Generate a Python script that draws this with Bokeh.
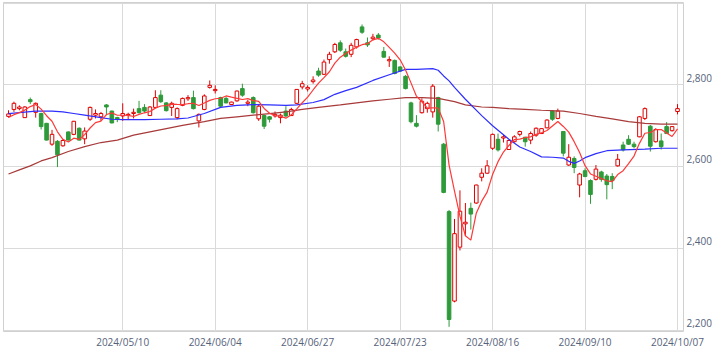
import numpy as np
from bokeh.plotting import figure
from bokeh.models import ColumnDataSource, FixedTicker, Range1d, NumeralTickFormatter
from bokeh.embed import file_html
from bokeh.resources import INLINE

# ---- daily candles (trading-day index 0..123) ----
opens = [2723, 2740, 2742, 2720, 2764, 2733, 2730, 2706, 2655, 2662,
         2651, 2685, 2679, 2694, 2668, 2716, 2726, 2722, 2751, 2736,
         2720, 2724, 2726, 2730, 2742, 2745, 2725, 2745, 2775, 2756,
         2745, 2720, 2750, 2766, 2769, 2712, 2740, 2794, 2786, 2769,
         2767, 2752, 2761, 2791, 2755, 2769, 2717, 2725, 2722, 2724,
         2720, 2736, 2725, 2755, 2795, 2790, 2808, 2834, 2826, 2862,
         2881, 2903, 2881, 2875, 2893, 2942, 2903, 2913, 2922, 2882,
         2859, 2860, 2844, 2821, 2756, 2706, 2732, 2742, 2734, 2769,
         2655, 2490, 2271, 2403, 2460, 2498, 2511, 2574, 2584, 2645,
         2667, 2670, 2642, 2661, 2679, 2672, 2665, 2677, 2681, 2695,
         2736, 2718, 2686, 2604, 2620, 2555, 2590, 2566, 2569, 2587,
         2577, 2576, 2602, 2653, 2667, 2655, 2673, 2718, 2699, 2661,
         2663, 2698, 2688, 2735]
highs = [2738, 2759, 2750, 2748, 2769, 2757, 2732, 2707, 2690, 2665,
         2667, 2686, 2712, 2696, 2696, 2747, 2740, 2734, 2753, 2737,
         2722, 2755, 2732, 2742, 2761, 2753, 2748, 2787, 2787, 2758,
         2759, 2745, 2769, 2775, 2786, 2730, 2777, 2811, 2799, 2771,
         2771, 2759, 2786, 2803, 2763, 2772, 2753, 2727, 2724, 2735,
         2730, 2748, 2744, 2790, 2810, 2799, 2821, 2842, 2862, 2881,
         2903, 2909, 2889, 2903, 2913, 2948, 2916, 2925, 2927, 2893,
         2870, 2862, 2846, 2824, 2759, 2726, 2767, 2759, 2802, 2771,
         2658, 2494, 2472, 2542, 2511, 2512, 2556, 2596, 2616, 2681,
         2681, 2678, 2666, 2677, 2688, 2673, 2686, 2696, 2694, 2716,
         2738, 2742, 2687, 2655, 2625, 2585, 2596, 2569, 2604, 2590,
         2582, 2584, 2631, 2661, 2677, 2661, 2724, 2745, 2702, 2694,
         2681, 2709, 2699, 2753]
lows = [2720, 2734, 2738, 2720, 2753, 2720, 2691, 2664, 2651, 2599,
        2649, 2664, 2677, 2664, 2655, 2712, 2718, 2712, 2726, 2706,
        2709, 2712, 2714, 2718, 2730, 2732, 2724, 2743, 2756, 2735,
        2724, 2716, 2748, 2761, 2740, 2696, 2738, 2791, 2779, 2746,
        2755, 2751, 2759, 2771, 2748, 2730, 2712, 2692, 2708, 2720,
        2706, 2721, 2724, 2753, 2789, 2784, 2803, 2820, 2825, 2852,
        2878, 2881, 2867, 2868, 2889, 2925, 2893, 2909, 2911, 2867,
        2844, 2826, 2832, 2789, 2706, 2696, 2730, 2732, 2720, 2686,
        2535, 2208, 2268, 2395, 2430, 2446, 2509, 2564, 2582, 2641,
        2637, 2659, 2641, 2659, 2674, 2649, 2655, 2673, 2680, 2694,
        2712, 2716, 2625, 2602, 2584, 2525, 2574, 2509, 2566, 2563,
        2520, 2545, 2600, 2637, 2653, 2645, 2672, 2714, 2637, 2659,
        2642, 2680, 2686, 2728]
closes = [2729, 2755, 2746, 2746, 2759, 2755, 2698, 2665, 2679, 2629,
          2664, 2665, 2711, 2665, 2687, 2745, 2730, 2730, 2746, 2707,
          2716, 2730, 2728, 2733, 2732, 2736, 2746, 2769, 2759, 2737,
          2755, 2742, 2767, 2769, 2742, 2728, 2773, 2799, 2789, 2748,
          2756, 2758, 2785, 2775, 2758, 2732, 2748, 2699, 2716, 2728,
          2726, 2724, 2740, 2789, 2803, 2794, 2812, 2824, 2856, 2875,
          2899, 2885, 2870, 2897, 2911, 2929, 2898, 2917, 2915, 2868,
          2862, 2828, 2834, 2791, 2710, 2699, 2760, 2755, 2797, 2704,
          2537, 2226, 2436, 2491, 2464, 2484, 2555, 2584, 2602, 2679,
          2641, 2673, 2664, 2673, 2686, 2661, 2681, 2694, 2693, 2714,
          2716, 2736, 2633, 2623, 2598, 2582, 2576, 2532, 2594, 2569,
          2556, 2566, 2618, 2641, 2655, 2649, 2722, 2742, 2650, 2691,
          2649, 2681, 2698, 2742]
# four closes before the first shown day (for the 5-day average)
prior_closes = [2720, 2721, 2715, 2716]

# ---- 25-day (blue) and 75-day (brown) averages ----
ma25_index = [0, 5, 8, 10, 12, 14, 17, 19, 21, 25, 28, 31, 33, 36, 39, 42, 45, 48,
              51, 53, 56, 58, 60, 62, 64, 67, 70, 73, 75, 78, 79, 80, 81, 82, 84,
              87, 89, 92, 94, 96, 98, 100, 102, 103, 104, 105, 106, 108, 110, 113,
              117, 120, 123]
ma25_values = [2730, 2736, 2736, 2734, 2730, 2726, 2720, 2716, 2715, 2715, 2716,
               2717, 2719, 2730, 2745, 2750, 2752, 2751, 2750, 2751, 2757, 2764,
               2777, 2786, 2794, 2811, 2825, 2838, 2838, 2840, 2836, 2822, 2810,
               2794, 2765, 2725, 2700, 2667, 2648, 2637, 2624, 2623, 2621, 2613,
               2608, 2614, 2622, 2632, 2639, 2641, 2643, 2645, 2645]
ma75_index = [0, 2, 4, 6, 8, 11, 14, 17, 20, 23, 26, 29, 32, 36, 39, 42, 45, 48,
              51, 54, 57, 61, 64, 67, 70, 73, 76, 79, 82, 84, 87, 89, 92, 95, 98,
              102, 105, 108, 111, 114, 117, 120, 123]
ma75_values = [2582, 2592, 2602, 2614, 2622, 2637, 2649, 2659, 2665, 2677, 2685,
               2693, 2701, 2710, 2718, 2722, 2726, 2730, 2734, 2740, 2745, 2751,
               2756, 2761, 2765, 2769, 2769, 2767, 2759, 2751, 2746, 2745, 2742,
               2740, 2738, 2736, 2730, 2723, 2717, 2710, 2706, 2704, 2704]

tick_index = [21, 38, 55, 72, 89, 106, 123]
tick_labels = ["2024/05/10", "2024/06/04", "2024/06/27", "2024/07/23",
               "2024/08/16", "2024/09/10", "2024/10/07"]
price_ticks = [2200, 2400, 2600, 2800, 3000]

UP = "#e00000"
DOWN = "#2e9a3a"
FONT = "Open Sans"
LABEL_COLOR = "#56627a"

x = np.arange(len(closes))
o = np.array(opens, float)
c = np.array(closes, float)
up = c >= o
src = ColumnDataSource(dict(
    x=x, high=highs, low=lows,
    top=np.maximum(o, c), bottom=np.minimum(o, c),
    line=[UP if u else DOWN for u in up],
    fill=["#ffffff" if u else DOWN for u in up],
))

ext = np.array(prior_closes + closes, float)
ma5 = np.array([ext[i:i + 5].mean() for i in range(len(closes))])

p = figure(width=722, height=351, output_backend="svg", toolbar_location=None,
           x_range=Range1d(-0.92, 124.1), y_range=Range1d(2196.6, 3001.7),
           y_axis_location="right",
           min_border_left=3, min_border_top=2, min_border_right=39, min_border_bottom=19)
p.background_fill_color = "#ffffff"
p.border_fill_color = "#ffffff"
p.outline_line_color = "#d0d0d0"
p.outline_line_width = 1

# grids
p.xgrid.ticker = FixedTicker(ticks=tick_index)
p.ygrid.ticker = FixedTicker(ticks=price_ticks)
for g in (p.xgrid, p.ygrid):
    g.grid_line_color = "#dadada"
    g.grid_line_width = 1

# x axis
xa = p.xaxis[0]
xa.ticker = FixedTicker(ticks=tick_index)
xa.major_label_overrides = {t: l for t, l in zip(tick_index, tick_labels)}
# y axis: labels sit just above their grid line
yoff = 18
ylab_ticks = [t + yoff for t in price_ticks[:-1]]
ya = p.yaxis[0]
ya.ticker = FixedTicker(ticks=ylab_ticks)
ya.major_label_overrides = {t: f"{t - yoff:,}" for t in ylab_ticks}
for ax in (xa, ya):
    ax.axis_line_color = None
    ax.major_tick_line_color = None
    ax.minor_tick_line_color = None
    ax.major_tick_out = 0
    ax.major_tick_in = 0
    ax.major_label_text_font = FONT
    ax.major_label_text_font_size = "10px"
    ax.major_label_text_color = LABEL_COLOR
xa.major_label_standoff = 3
ya.major_label_standoff = 3

# candles
p.segment(x0="x", y0="high", x1="x", y1="low", color="line", line_width=1, source=src)
p.vbar(x="x", top="top", bottom="bottom", width=0.66, fill_color="fill",
       line_color="line", line_width=1, source=src)

# moving averages
p.line(ma75_index, ma75_values, line_color="#a83a3a", line_width=1.2)
p.line(ma25_index, ma25_values, line_color="#2e2eff", line_width=1.2)
p.line(x, ma5, line_color="#ff3838", line_width=1.2)

open("out.html", "w").write(file_html(p, INLINE))
